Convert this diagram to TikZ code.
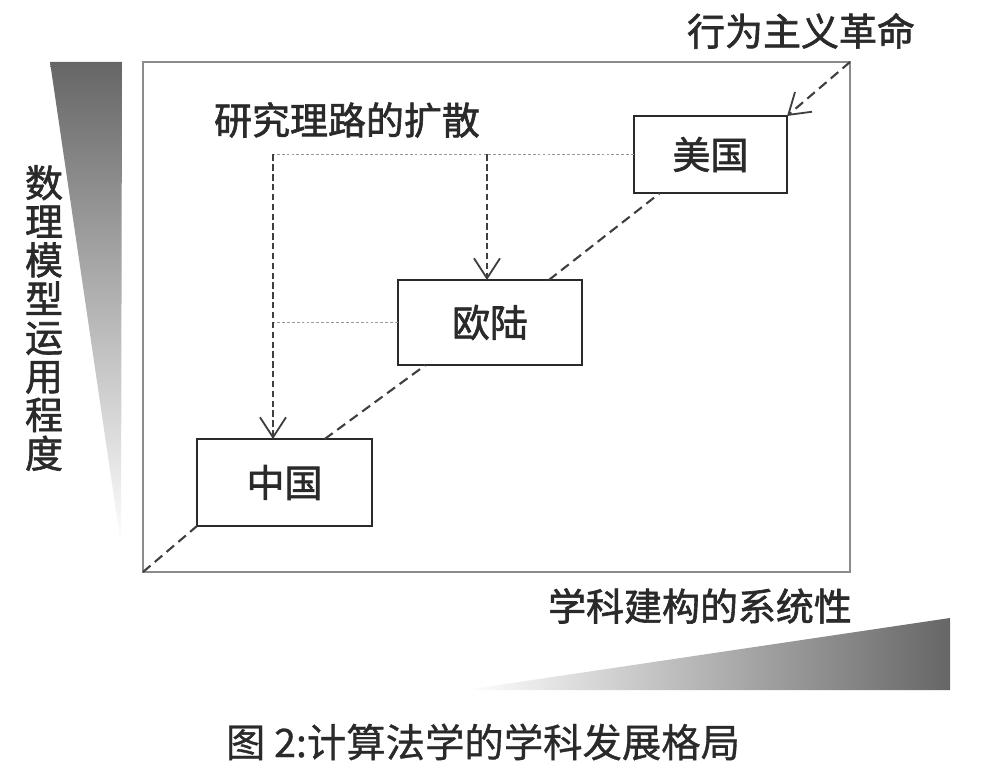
\documentclass[tikz,border=0pt]{standalone}
\usepackage{fontspec}
\newfontfamily\cjk{Noto Sans CJK SC}[FakeBold=1.6]
\newfontfamily\cjkcap{Noto Sans CJK SC}[FakeBold=0.8]
\usetikzlibrary{arrows.meta,calc}
\definecolor{inkgray}{HTML}{2A2A2A}
\definecolor{framegray}{HTML}{8C8C8C}
\definecolor{linegray}{HTML}{3F3F3F}
\definecolor{dotgray}{HTML}{999999}
\definecolor{shadegray}{HTML}{666666}
\begin{document}
\begin{tikzpicture}[
        x=0.025cm, y=-0.025cm,
        country/.style={rectangle, draw=inkgray, line width=1.7pt, inner sep=0pt, outer sep=0pt, fill=white, font=\cjk\fontsize{27}{31}\selectfont, text=inkgray},
        axislabel/.style={inner sep=0pt, font=\cjk\fontsize{27}{31}\selectfont, text=inkgray},
        diag/.style={dash pattern=on 7pt off 4pt, linegray, line width=1.5pt},
        spread/.style={dash pattern=on 4.5pt off 2.5pt, linegray, line width=1.5pt, -{Straight Barb[length=5mm,width=6.5mm,line width=1.3pt]}},
        hint/.style={dash pattern=on 2pt off 1.5pt, dotgray, line width=1pt}
    ]
        \useasboundingbox (0,0) rectangle (982,768);

        % Gradient wedges along the two axes
        \shade[top color=shadegray, bottom color=white] (50,62) -- (122,62) -- (121,545) -- cycle;
        \shade[right color=shadegray, left color=white] (465,690) -- (950,618) -- (950,690) -- cycle;

        % Outer frame
        \draw[framegray, line width=1.4pt] (143,62) rectangle (850,572);
        \coordinate (sw) at (143,572);
        \coordinate (ne) at (850,62);

        % Country boxes
        \node[country, minimum width=4.375cm, minimum height=2.175cm] (cn) at (284.5,482.5) {中国};
        \node[country, minimum width=4.6cm, minimum height=2.125cm] (eu) at (490,322.5) {欧陆};
        \node[country, minimum width=3.825cm, minimum height=1.925cm] (us) at (710.5,154.5) {美国};

        % Diagonal development line
        \draw[diag] (sw) -- (cn.south west);
        \draw[diag] ($(cn.north west)!0.73!(cn.north east)$) -- ($(eu.south west)!0.15!(eu.south east)$);
        \draw[diag] ($(eu.north west)!0.82!(eu.north east)$) -- ($(us.south west)!0.17!(us.south east)$);
        \draw[diag, -{Straight Barb[length=5mm,width=6.5mm,line width=1.3pt]}] (ne) -- (us.north east);

        % Spreading of research approaches
        \coordinate (tl) at (273,154.5);
        \coordinate (tm) at (487,154.5);
        \draw[hint] (us.west) -- (tl);
        \draw[hint] (eu.west) -- (eu.west -| tl);
        \draw[spread] (tl) -- (tl |- cn.north);
        \draw[spread] (tm) -- (tm |- eu.north);

        % Labels
        \node[axislabel] (rev) at (801,31) {行为主义革命};
        \node[axislabel] (spreadlbl) at (347,120) {研究理路的扩散};
        \node[axislabel, align=center, font=\cjk\fontsize{27}{27.5}\selectfont] (vaxis) at (44,318) {数\\理\\模\\型\\运\\用\\程\\度};
        \node[axislabel] (haxis) at (700,606) {学科建构的系统性};
        \node[axislabel, font=\cjkcap\fontsize{28}{32}\selectfont] (caption) at (483,742) {图 2:计算法学的学科发展格局};
    \end{tikzpicture}
\end{document}
